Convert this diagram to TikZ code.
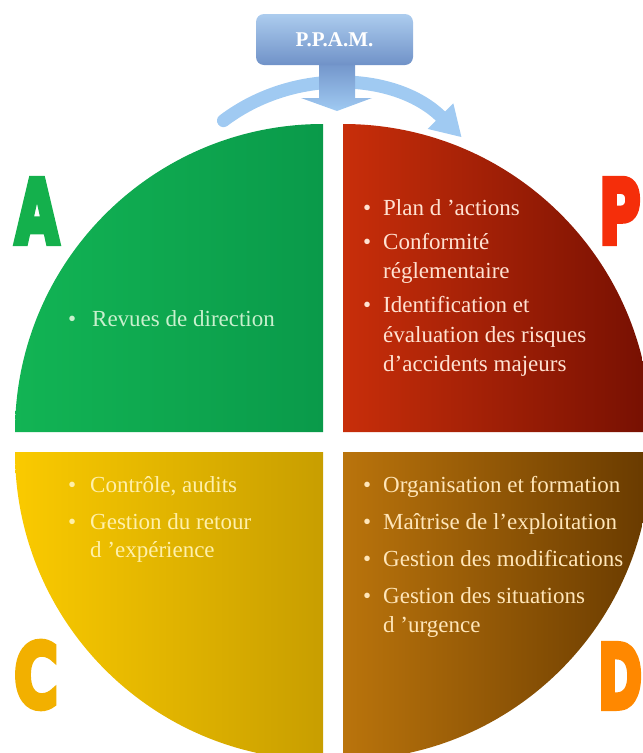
\documentclass[tikz,border=0pt]{standalone}
\usepackage{fontspec}
\setmainfont{Liberation Serif}
\newfontfamily\blockfont{DejaVu Sans}[FakeBold=7]
\usetikzlibrary{arrows.meta}

% quadrant colours (light side / dark side)
\definecolor{greenL}{RGB}{18,180,84}
\definecolor{greenD}{RGB}{10,154,74}
\definecolor{redL}{RGB}{200,46,10}
\definecolor{redD}{RGB}{118,16,2}
\definecolor{yellowL}{RGB}{250,202,0}
\definecolor{yellowD}{RGB}{200,158,0}
\definecolor{brownL}{RGB}{186,116,12}
\definecolor{brownD}{RGB}{104,58,0}
% text colours
\definecolor{greenTxt}{RGB}{200,240,205}
\definecolor{redTxt}{RGB}{255,226,210}
\definecolor{yellowTxt}{RGB}{255,240,170}
\definecolor{brownTxt}{RGB}{255,230,185}
% letters
\definecolor{letterA}{RGB}{20,176,76}
\definecolor{letterP}{RGB}{245,46,10}
\definecolor{letterC}{RGB}{242,176,0}
\definecolor{letterD}{RGB}{255,136,0}
% blue header
\definecolor{arcBlue}{RGB}{160,202,242}
\definecolor{boxTop}{RGB}{172,204,238}
\definecolor{boxBot}{RGB}{112,146,200}

\newlength\bulletw
\newcommand\bitem[1]{\par\hangindent=\bulletw\hangafter=1\noindent\makebox[\bulletw][l]{\textbullet}#1}
\newcommand\itemlist[4]{% bullet width, baselineskip, item gap, items
  \parbox[t]{300pt}{\setlength\bulletw{#1}\fontsize{23}{#2}\selectfont
    \setlength\parskip{#3}\setlength\parindent{0pt}#4}}
\newcommand\blockletter[2]{\scalebox{#1}[1]{#2}}

\begin{document}
\begin{tikzpicture}[x=1pt,y=-1pt,
  itemtext/.style={anchor=base west, inner sep=0pt},
  bigletter/.style={anchor=base west, inner sep=0pt,
    font=\blockfont\bfseries\fontsize{88}{88}\selectfont},
  cyclearrow/.style={draw=arcBlue, line width=13pt, line cap=round,
    -{Triangle[width=34pt,length=30pt]}},
]
\useasboundingbox (0,0) rectangle (643,753);
\clip (0,0) rectangle (643,753);

% four quarter discs
\shade[left color=greenL, right color=greenD]
  (323,432) -- (15,432) arc[start angle=180, end angle=270, radius=308] -- cycle;
\shade[left color=redL, right color=redD]
  (343,432) -- (343,124) arc[start angle=270, end angle=360, radius=308] -- cycle;
\shade[left color=yellowL, right color=yellowD]
  (323,452) -- (15,452) arc[start angle=180, end angle=90, radius=308] -- cycle;
\shade[left color=brownL, right color=brownD]
  (343,452) -- (651,452) arc[start angle=0, end angle=90, radius=308] -- cycle;

% curved cycle arrow
\coordinate (hub) at (333,266);
\draw[cyclearrow] (hub) ++(233:182) arc[start angle=233, end angle=315, radius=182];

% header arrow and box
\shade[top color=boxBot, bottom color=arcBlue]
  (319,60) -- (355,60) -- (355,98) -- (372,98) -- (337,111) -- (301,98) -- (319,98) -- cycle;
\shade[top color=boxTop, bottom color=boxBot, rounded corners=8pt]
  (256,14) rectangle (413,65);
\node[text=white, font=\bfseries\fontsize{21}{21}\selectfont] (ppam) at (334.5,40) {P.P.A.M.};

% corner letters
\node[bigletter, text=letterA] (A) at (15,243) {\blockletter{0.64}{A}};
\node[bigletter, text=letterP] (P) at (599,243) {\blockletter{0.64}{P}};
\node[bigletter, text=letterC] (C) at (14,707) {\blockletter{0.68}{C}};
\node[bigletter, text=letterD] (D) at (598,708) {\blockletter{0.60}{D}};

% quadrant contents
\node[itemtext, text=greenTxt] (act) at (68,326)
  {\itemlist{24pt}{29.5pt}{5pt}{\bitem{Revues de direction}}};
\node[itemtext, text=redTxt] (plan) at (363,215)
  {\itemlist{20pt}{29.3pt}{5pt}{%
    \bitem{Plan d ’actions}
    \bitem{Conformité\\réglementaire}
    \bitem{Identification et\\évaluation des risques\\d’accidents majeurs}}};
\node[itemtext, text=yellowTxt] (check) at (68,492)
  {\itemlist{22pt}{27.5pt}{10pt}{%
    \bitem{Contrôle, audits}
    \bitem{Gestion du retour\\d ’expérience}}};
\node[itemtext, text=brownTxt] (do) at (363,492)
  {\itemlist{20pt}{29pt}{8pt}{%
    \bitem{Organisation et formation}
    \bitem{Maîtrise de l’exploitation}
    \bitem{Gestion des modifications}
    \bitem{Gestion des situations\\d ’urgence}}};
\end{tikzpicture}
\end{document}
